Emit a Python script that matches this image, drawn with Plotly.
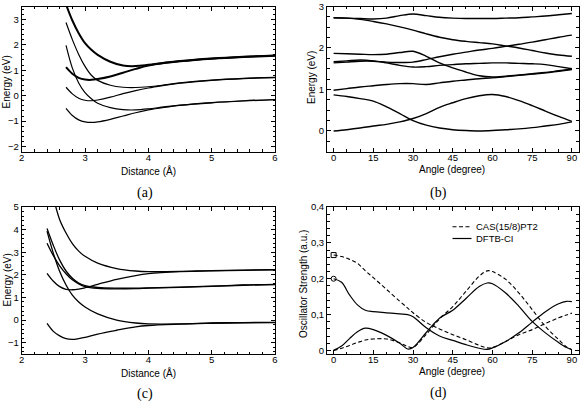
import plotly.graph_objects as go

W, H = 580, 402

# ---------------- data ----------------
# (a) potential curves vs distance
a_dist = [2.7, 2.8, 2.9, 3.0, 3.1, 3.2, 3.4, 3.6, 3.8, 4.0, 4.25, 4.5, 5.0, 5.5, 6.0]
a_top = [3.58, 2.95, 2.45, 2.06, 1.8, 1.6, 1.33, 1.18, 1.16, 1.21, 1.29, 1.36, 1.46, 1.53, 1.58]
a_bold = [1.12, 0.86, 0.7, 0.63, 0.62, 0.65, 0.75, 0.9, 1.05, 1.18, 1.28, 1.35, 1.45, 1.52, 1.57]
a_s3 = [2.87, 2.2, 1.62, 1.15, 0.8, 0.6, 0.41, 0.33, 0.32, 0.35, 0.42, 0.5, 0.61, 0.68, 0.72]
a_s4 = [1.97, 1.08, 0.5, 0.12, -0.12, -0.3, -0.47, -0.55, -0.56, -0.52, -0.44, -0.37, -0.27, -0.2, -0.15]
a_s5 = [0.33, 0.07, -0.1, -0.18, -0.2, -0.17, -0.06, 0.08, 0.2, 0.3, 0.4, 0.49, 0.6, 0.67, 0.71]
a_s6 = [-0.5, -0.78, -0.95, -1.03, -1.05, -1.03, -0.93, -0.8, -0.67, -0.56, -0.46, -0.38, -0.28, -0.21, -0.16]

# (b) potential curves vs angle
b_angle = [0, 5, 10, 15, 20, 25, 30, 35, 40, 45, 50, 55, 60, 65, 70, 75, 80, 85, 90]
b_s1 = [2.73, 2.72, 2.71, 2.70, 2.72, 2.78, 2.82, 2.78, 2.74, 2.72, 2.71, 2.71, 2.71, 2.72, 2.73, 2.75, 2.77, 2.80, 2.83]
b_s2 = [2.73, 2.72, 2.69, 2.64, 2.58, 2.51, 2.43, 2.34, 2.26, 2.20, 2.16, 2.13, 2.10, 2.05, 2.00, 1.94, 1.88, 1.83, 1.80]
b_s3 = [1.87, 1.86, 1.85, 1.84, 1.85, 1.89, 1.92, 1.80, 1.64, 1.52, 1.42, 1.33, 1.30, 1.32, 1.35, 1.38, 1.41, 1.45, 1.49]
b_s4 = [1.64, 1.66, 1.68, 1.68, 1.66, 1.65, 1.66, 1.72, 1.79, 1.85, 1.90, 1.95, 1.99, 2.04, 2.09, 2.14, 2.20, 2.26, 2.31]
b_s5 = [1.67, 1.69, 1.71, 1.69, 1.64, 1.58, 1.54, 1.55, 1.58, 1.60, 1.62, 1.63, 1.64, 1.64, 1.63, 1.62, 1.60, 1.55, 1.50]
b_s6 = [0.98, 1.02, 1.06, 1.09, 1.12, 1.14, 1.14, 1.12, 1.16, 1.20, 1.23, 1.26, 1.28, 1.31, 1.34, 1.37, 1.40, 1.44, 1.48]
b_s7 = [0.87, 0.83, 0.78, 0.72, 0.58, 0.42, 0.25, 0.14, 0.07, 0.03, 0.01, 0.0, 0.01, 0.03, 0.05, 0.08, 0.12, 0.16, 0.22]
b_s8 = [0.0, 0.03, 0.07, 0.12, 0.16, 0.22, 0.30, 0.42, 0.57, 0.68, 0.78, 0.85, 0.88, 0.83, 0.73, 0.61, 0.48, 0.35, 0.23]

# (c) potential curves vs distance
c_dist = [2.4, 2.5, 2.6, 2.7, 2.8, 2.9, 3.0, 3.2, 3.5, 3.8, 4.0, 4.5, 5.0, 5.5, 6.0]
c_s1 = [6.4, 5.4, 4.44, 3.85, 3.38, 3.05, 2.82, 2.52, 2.28, 2.17, 2.14, 2.15, 2.19, 2.21, 2.23]
c_s2 = [4.05, 3.3, 2.65, 2.17, 1.85, 1.64, 1.52, 1.44, 1.41, 1.41, 1.42, 1.46, 1.5, 1.55, 1.58]
c_s3 = [3.93, 2.95, 2.15, 1.55, 1.1, 0.8, 0.58, 0.27, 0.0, -0.13, -0.17, -0.17, -0.13, -0.11, -0.1]
c_s4 = [3.4, 2.85, 2.4, 2.05, 1.78, 1.6, 1.48, 1.4, 1.38, 1.39, 1.41, 1.45, 1.49, 1.54, 1.57]
c_s5 = [2.07, 1.72, 1.48, 1.36, 1.34, 1.37, 1.43, 1.58, 1.8, 1.97, 2.05, 2.14, 2.18, 2.2, 2.22]
c_s6 = [-0.15, -0.5, -0.7, -0.82, -0.85, -0.82, -0.77, -0.62, -0.45, -0.3, -0.24, -0.18, -0.14, -0.12, -0.11]

# (d) oscillator strengths vs angle
d_angle = [0, 3, 6, 9, 12, 15, 20, 25, 28, 30, 35, 40, 45, 50, 55, 58, 60, 65, 70, 75, 80, 85, 88, 90]
cas_a = [0.266, 0.262, 0.254, 0.243, 0.222, 0.203, 0.17, 0.137, 0.118, 0.105, 0.078, 0.06, 0.044, 0.03, 0.014, 0.007, 0.008, 0.025, 0.044, 0.058, 0.075, 0.091, 0.099, 0.104]
cas_b = [0.0, 0.006, 0.014, 0.022, 0.029, 0.032, 0.032, 0.021, 0.011, 0.008, 0.045, 0.088, 0.122, 0.165, 0.207, 0.222, 0.22, 0.198, 0.16, 0.114, 0.067, 0.03, 0.01, 0.002]
dftb_a = [0.2, 0.19, 0.155, 0.127, 0.112, 0.108, 0.105, 0.102, 0.1, 0.094, 0.063, 0.04, 0.028, 0.016, 0.006, 0.003, 0.007, 0.025, 0.049, 0.079, 0.108, 0.13, 0.137, 0.136]
dftb_b = [0.0, 0.012, 0.033, 0.052, 0.062, 0.058, 0.042, 0.02, 0.004, 0.008, 0.05, 0.09, 0.112, 0.145, 0.178, 0.188, 0.186, 0.16, 0.123, 0.081, 0.049, 0.022, 0.008, 0.002]

legend_labels = ["CAS(15/8)PT2", "DFTB-CI"]
panel_labels = ["(a)", "(b)", "(c)", "(d)"]

# ---------------- helpers ----------------
def px(x):
    return x / W

def py(y):
    return 1 - y / H

FONT = "Liberation Sans, Arial, sans-serif"
SERIF = "Liberation Serif, Times New Roman, serif"

fig = go.Figure()

def add_line(x, y, xa, ya, width=1.3, dash=None):
    fig.add_trace(go.Scatter(
        x=x, y=y, xaxis=xa, yaxis=ya, mode="lines",
        line=dict(color="black", width=width, shape="spline", smoothing=1.0, dash=dash),
        showlegend=False, hoverinfo="skip"))

# panel a
for ys, w in [(a_top, 2.0), (a_bold, 2.0), (a_s3, 1.2), (a_s4, 1.2), (a_s5, 1.2), (a_s6, 1.2)]:
    add_line(a_dist, ys, "x", "y", w)
# panel b
for ys in [b_s1, b_s2, b_s3, b_s4, b_s5, b_s6, b_s7, b_s8]:
    add_line(b_angle, ys, "x2", "y2", 1.4)
# panel c
for ys in [c_s1, c_s2, c_s3, c_s4, c_s5, c_s6]:
    add_line(c_dist, ys, "x3", "y3", 1.3)
# panel d
DASH = "4px,2.5px"
add_line(d_angle, cas_a, "x4", "y4", 1.1, DASH)
add_line(d_angle, cas_b, "x4", "y4", 1.1, DASH)
add_line(d_angle, dftb_a, "x4", "y4", 1.2)
add_line(d_angle, dftb_b, "x4", "y4", 1.2)
fig.add_trace(go.Scatter(x=[d_angle[0]], y=[cas_a[0]], xaxis="x4", yaxis="y4", mode="markers",
                         marker=dict(symbol="square-open", size=5, color="black", line=dict(width=1)),
                         showlegend=False, hoverinfo="skip", cliponaxis=False))
fig.add_trace(go.Scatter(x=[d_angle[0]], y=[dftb_a[0]], xaxis="x4", yaxis="y4", mode="markers",
                         marker=dict(symbol="circle-open", size=5, color="black", line=dict(width=1)),
                         showlegend=False, hoverinfo="skip", cliponaxis=False))

def axis(domain, rng, dtick, minor_dtick, anchor, standoff=0, tick0=0):
    return dict(
        domain=domain, range=rng, dtick=dtick, tick0=tick0, anchor=anchor,
        showline=True, linecolor="black", linewidth=1, mirror="allticks",
        ticks="inside", ticklen=4, tickwidth=1, tickcolor="black",
        minor=dict(ticks="inside", ticklen=2.5, tickwidth=1, tickcolor="black", dtick=minor_dtick, tick0=tick0, showgrid=False),
        showgrid=False, zeroline=False, automargin=False,
        ticklabelstandoff=standoff, ticklabeloverflow="allow",
        tickfont=dict(family=FONT, size=9.5, color="black"),
    )

xl = [px(21.7), px(275)]
xr = [px(327), px(578.5)]
yt = [py(151.7), py(6.5)]
yb = [py(354), py(207)]

fig.update_layout(
    width=W, height=H,
    margin=dict(l=0, r=0, t=0, b=0),
    paper_bgcolor="white", plot_bgcolor="white",
    separators=", ",
    showlegend=False,
    xaxis=axis(xl, [2, 6], 1, 0.2, "y", -3),
    yaxis=axis(yt, [-2.2, 3.5], 1, 0.2, "x"),
    xaxis2=axis(xr, [-2.5, 92.5], 15, 5, "y2", -3),
    yaxis2=axis(yt, [-0.5, 3.0001], 1, 0.25, "x2"),
    xaxis3=axis(xl, [2, 6], 1, 0.2, "y3", -3),
    yaxis3=axis(yb, [-1.5, 5.0001], 1, 0.2, "x3"),
    xaxis4=axis(xr, [-2.5, 92.5], 15, 5, "y4", -3),
    yaxis4=axis(yb, [-0.01, 0.4001], 0.1, 0.02, "x4"),
)

annots = []
def text(x, y, s, size=10, angle=0, family=FONT, xanchor="center"):
    annots.append(dict(x=px(x), y=py(y), xref="paper", yref="paper", text=s, showarrow=False,
                       textangle=angle, font=dict(family=family, size=size, color="black"),
                       xanchor=xanchor, yanchor="middle"))

# axis titles
text(148, 171, "Distance (Å)")
text(452, 170, "Angle (degree)")
text(148, 373, "Distance (Å)")
text(452, 371, "Angle (degree)")
text(6.5, 82, "Energy (eV)", angle=-90)
text(311, 78, "Energy (eV)", angle=-90)
text(6.5, 280, "Energy (eV)", angle=-90)
text(303, 284, "Oscillator Strength (a.u.)", angle=-90)
# panel labels
text(145, 193, panel_labels[0], size=14, family=SERIF)
text(438, 193, panel_labels[1], size=14, family=SERIF)
text(145, 394, panel_labels[2], size=14, family=SERIF)
text(438, 393, panel_labels[3], size=14, family=SERIF)
# legend texts
text(474, 226.7, legend_labels[0], size=9.5, xanchor="left")
text(474, 238.5, legend_labels[1], size=9.5, xanchor="left")

fig.update_layout(annotations=annots)
fig.add_shape(type="line", xref="paper", yref="paper", x0=px(452.5), x1=px(471.5), y0=py(226.7), y1=py(226.7),
              line=dict(color="black", width=1.1, dash=DASH))
fig.add_shape(type="line", xref="paper", yref="paper", x0=px(452.5), x1=px(471.5), y0=py(238.5), y1=py(238.5),
              line=dict(color="black", width=1.2))

fig.write_html("out.html", config={"displayModeBar": False},
               post_script="document.body.style.margin='0';document.body.style.overflow='hidden';")
